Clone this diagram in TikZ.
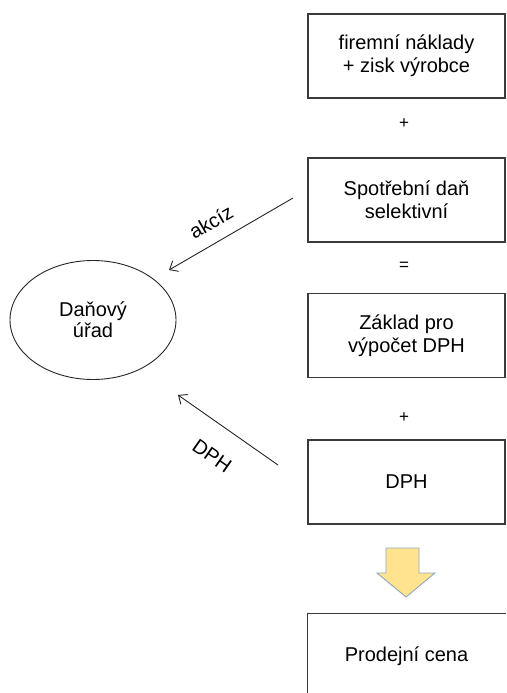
\documentclass[tikz,border=0pt]{standalone}
\usepackage{fontspec}
\setmainfont{Liberation Sans}
\usetikzlibrary{arrows.meta,shapes.geometric}
\definecolor{boxline}{HTML}{3A3A3A}
\definecolor{arrfill}{HTML}{FFE38F}
\definecolor{arredge}{HTML}{8FA6C0}
\begin{document}
\begin{tikzpicture}[x=1pt,y=-1pt,
  stepbox/.style={draw=boxline,line width=1.3pt,minimum width=197pt,minimum height=84pt,
    inner sep=0pt,align=center,font=\fontsize{20}{23}\selectfont},
  oplabel/.style={font=\fontsize{17}{20}\selectfont,inner sep=0pt},
  flow/.style={draw=black!85,line width=0.9pt,-{Straight Barb[length=7pt,width=12pt]}},
  edgelabel/.style={font=\fontsize{20}{23}\selectfont,inner sep=0pt}]
\useasboundingbox[fill=white] (0,0) rectangle (506,693);
\node[stepbox] (b1) at (406.5,56) {firemní náklady\\+ zisk výrobce};
\node[oplabel] (p1) at (404,124) {+};
\node[stepbox] (b2) at (406.5,200) {Spotřební daň\\selektivní};
\node[oplabel] (eq) at (404,266) {=};
\node[stepbox] (b3) at (406.5,335.5) {Základ pro\\výpočet DPH};
\node[oplabel] (p2) at (404,418) {+};
\node[stepbox] (b4) at (406.5,482) {DPH};
\node[stepbox,draw=none] (b5) at (406.5,656) {Prodejní cena};
\draw[boxline,line width=1.3pt] (b5.south west) -- (b5.north west) -- (b5.north east);
\node[draw=black!85,line width=0.9pt,ellipse,minimum width=166pt,minimum height=119pt,
  inner sep=0pt,align=center,font=\fontsize{20}{21}\selectfont] (ur) at (93,320)
  {\raisebox{-9pt}{\shortstack{Daňový\\[-1pt]úřad}}};
\coordinate (a1s) at (293,198);
\coordinate (a1e) at (169,270);
\coordinate (a2s) at (278,465);
\coordinate (a2e) at (178,395);
\draw[flow] (a1s) -- (a1e);
\draw[flow] (a2s) -- (a2e);
\node[edgelabel,rotate=30] (l1) at (211,222) {akcíz};
\node[edgelabel,rotate=-35] (l2) at (212,456) {DPH};
\draw[draw=arredge,fill=arrfill,line width=0.9pt,line join=miter]
  (386,548) -- (419,548) -- (419,573) -- (435,573) -- (406,597) -- (377,573) -- (386,573) -- cycle;
\end{tikzpicture}
\end{document}
